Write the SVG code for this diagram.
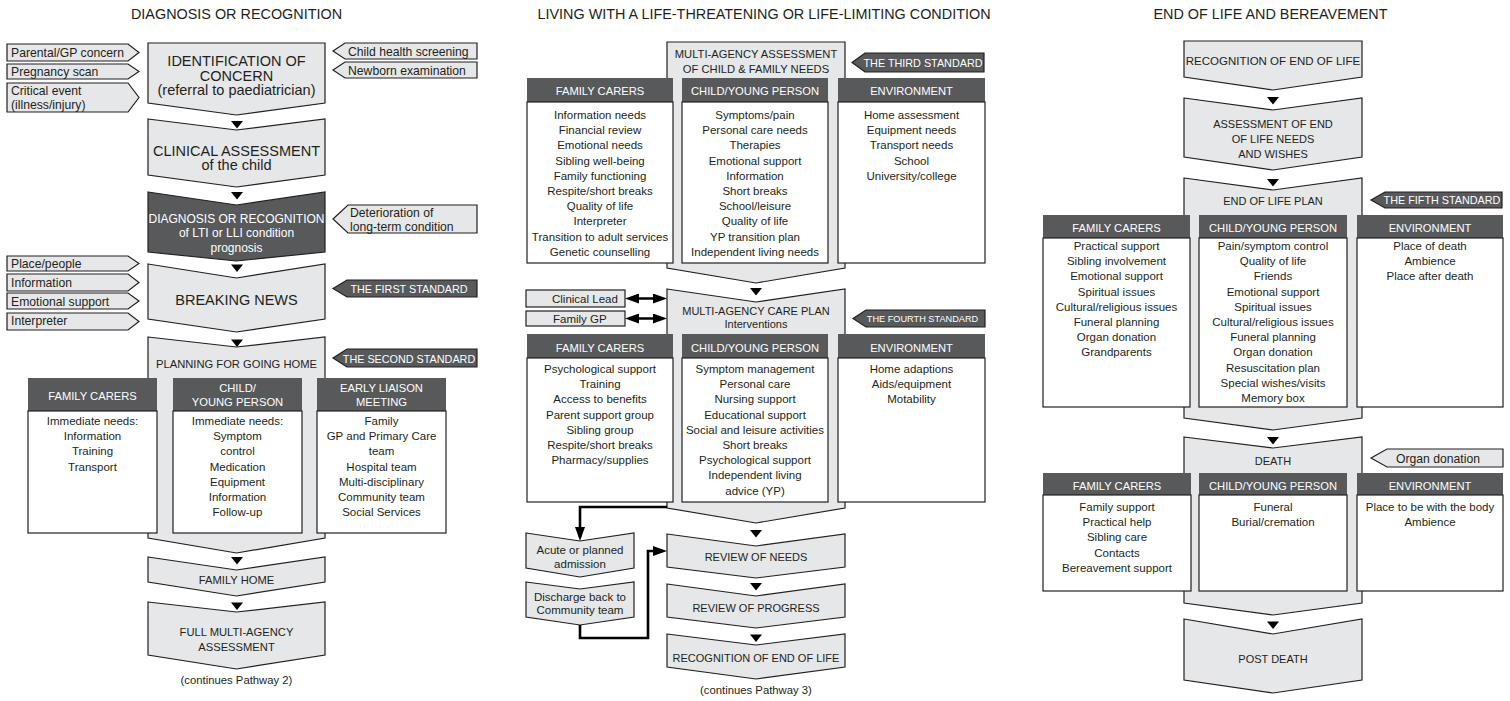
<svg xmlns="http://www.w3.org/2000/svg" width="1510" height="701" viewBox="0 0 1510 701">
<style>
text{font-family:"Liberation Sans",Arial,Helvetica,sans-serif;fill:#231f20}
.c{text-anchor:middle}
.T{font-size:14.4px}
.L{font-size:14.5px}
.M{font-size:11px}
.B{font-size:11.5px}
.I{font-size:12.2px}
.H{font-size:11.2px;fill:#fff}
.W{fill:#fff}
.stage{fill:#e6e7e8;stroke:#231f20;stroke-width:1.2}
.dark{fill:#58595b;stroke:#231f20;stroke-width:1.2}
.hdr{fill:#58595b}
.body{fill:#fff;stroke:#231f20;stroke-width:1.2}
.tri{fill:#000}
.con{fill:none;stroke:#000;stroke-width:2.6}
</style>
<defs>
<marker id="ah" markerUnits="userSpaceOnUse" viewBox="0 0 14 10" markerWidth="14" markerHeight="10" refX="10" refY="5" orient="auto-start-reverse"><path d="M0,0 L14,5 L0,10 Z" fill="#000"/></marker>
</defs>
<rect width="1510" height="701" fill="#fff"/>

<!-- Titles -->
<text class="T c" x="236.5" y="18.5">DIAGNOSIS OR RECOGNITION</text>
<text class="T c" x="764" y="18.5" font-size="14.2">LIVING WITH A LIFE-THREATENING OR LIFE-LIMITING CONDITION</text>
<text class="T c" x="1270.5" y="18.5">END OF LIFE AND BEREAVEMENT</text>

<!-- ===== LEFT COLUMN ===== -->
<g id="n-identification">
<path class="stage" d="M148,43 L325,43 L325,103 L236.5,115 L148,103 Z"/>
<text class="L c" x="236.5" y="65.5">IDENTIFICATION OF<tspan x="236.5" y="80.5">CONCERN</tspan><tspan x="236.5" y="95">(referral to paediatrician)</tspan></text>
</g>
<g id="in-parental"><path class="stage" d="M7,44 L128,44 L139,52.5 L128,61 L7,61 Z"/><text class="I" x="11" y="57">Parental/GP concern</text></g>
<g id="in-pregnancy"><path class="stage" d="M7,64 L128,64 L139,71.5 L128,79 L7,79 Z"/><text class="I" x="11" y="76">Pregnancy scan</text></g>
<g id="in-critical"><path class="stage" d="M7,83 L128,83 L139,97.5 L128,112 L7,112 Z"/><text class="I" x="11" y="94.5">Critical event<tspan x="11" y="108.5">(illness/injury)</tspan></text></g>
<g id="in-screening"><path class="stage" d="M333,51 L345,43 L477,43 L477,59 L345,59 Z"/><text class="I" x="348" y="55.5">Child health screening</text></g>
<g id="in-newborn"><path class="stage" d="M333,70 L345,62 L477,62 L477,78 L345,78 Z"/><text class="I" x="348" y="74.5">Newborn examination</text></g>

<g id="n-clinical">
<path class="stage" d="M148,119 L236.5,130 L325,119 L325,175 L236.5,187 L148,175 Z"/>
<text class="L c" x="236.5" y="156">CLINICAL ASSESSMENT<tspan x="236.5" y="170">of the child</tspan></text>
</g>

<g id="n-diagnosis">
<path class="dark" d="M148,192 L236.5,205 L325,192 L325,252 L236.5,261 L148,252 Z"/>
<text class="c W" font-size="12" x="236.5" y="222.5">DIAGNOSIS OR RECOGNITION<tspan x="236.5" y="237">of LTI or LLI condition</tspan><tspan x="236.5" y="251.5">prognosis</tspan></text>
</g>
<g id="in-deterioration"><path class="stage" d="M333,219 L348,205 L477,205 L477,233 L348,233 Z"/><text class="I" x="350" y="217">Deterioration of<tspan x="350" y="231">long-term condition</tspan></text></g>

<g id="n-breaking">
<path class="stage" d="M148,264 L236.5,278 L325,264 L325,319 L236.5,332 L148,319 Z"/>
<text class="L c" x="236.5" y="304.5">BREAKING NEWS</text>
</g>
<g id="in-place"><path class="stage" d="M7,256 L128,256 L139,263.5 L128,271 L7,271 Z"/><text class="I" x="11" y="268">Place/people</text></g>
<g id="in-information"><path class="stage" d="M7,274 L128,274 L139,282.5 L128,291 L7,291 Z"/><text class="I" x="11" y="287">Information</text></g>
<g id="in-emotional"><path class="stage" d="M7,293 L128,293 L139,301 L128,309 L7,309 Z"/><text class="I" x="11" y="305.5">Emotional support</text></g>
<g id="in-interpreter"><path class="stage" d="M7,313 L128,313 L139,321.5 L128,330 L7,330 Z"/><text class="I" x="11" y="325">Interpreter</text></g>
<g id="std-first"><path class="dark" d="M333,288.5 L347,280 L477,280 L477,297 L347,297 Z"/><text class="c W" font-size="10.8" x="409" y="292.5">THE FIRST STANDARD</text></g>

<g id="n-planning">
<path class="stage" d="M148,337 L236.5,347 L325,337 L325,538 L236.5,553 L148,538 Z"/>
<text class="c" font-size="11.2" x="236.5" y="368">PLANNING FOR GOING HOME</text>
</g>
<g id="std-second"><path class="dark" d="M333,358 L347,349 L477,349 L477,367 L347,367 Z"/><text class="c W" font-size="10.8" x="409" y="362.5">THE SECOND STANDARD</text></g>

<g id="col-l-family">
<rect class="hdr" x="28" y="378" width="129" height="33"/>
<rect class="body" x="28" y="411" width="129" height="122"/>
<text class="H c" x="92.5" y="400">FAMILY CARERS</text>
<text class="B c" x="92.5" y="425">Immediate needs:<tspan x="92.5" dy="15.2">Information</tspan><tspan x="92.5" dy="15.2">Training</tspan><tspan x="92.5" dy="15.2">Transport</tspan></text>
</g>
<g id="col-l-child">
<rect class="hdr" x="173" y="378" width="129" height="33"/>
<rect class="body" x="173" y="411" width="129" height="122"/>
<text class="H c" x="237.5" y="392">CHILD/<tspan x="237.5" y="406">YOUNG PERSON</tspan></text>
<text class="B c" x="237.5" y="425">Immediate needs:<tspan x="237.5" dy="15.2">Symptom</tspan><tspan x="237.5" dy="15.2">control</tspan><tspan x="237.5" dy="15.2">Medication</tspan><tspan x="237.5" dy="15.2">Equipment</tspan><tspan x="237.5" dy="15.2">Information</tspan><tspan x="237.5" dy="15.2">Follow-up</tspan></text>
</g>
<g id="col-l-liaison">
<rect class="hdr" x="317" y="378" width="129" height="33"/>
<rect class="body" x="317" y="411" width="129" height="122"/>
<text class="H c" x="381.5" y="392">EARLY LIAISON<tspan x="381.5" y="406">MEETING</tspan></text>
<text class="B c" x="381.5" y="425">Family<tspan x="381.5" dy="15.2">GP and Primary Care</tspan><tspan x="381.5" dy="15.2">team</tspan><tspan x="381.5" dy="15.2">Hospital team</tspan><tspan x="381.5" dy="15.2">Multi-disciplinary</tspan><tspan x="381.5" dy="15.2">Community team</tspan><tspan x="381.5" dy="15.2">Social Services</tspan></text>
</g>

<g id="n-family-home">
<path class="stage" d="M148,557 L236.5,570 L325,557 L325,582 L236.5,596 L148,582 Z"/>
<text class="c" font-size="11.2" x="236.5" y="584">FAMILY HOME</text>
</g>
<g id="n-full-assessment">
<path class="stage" d="M148,602 L236.5,612 L325,602 L325,655 L236.5,669 L148,655 Z"/>
<text class="c" font-size="11.2" x="236.5" y="636">FULL MULTI-AGENCY<tspan x="236.5" y="651">ASSESSMENT</tspan></text>
</g>
<text class="c" font-size="11.3" x="236.5" y="684">(continues Pathway 2)</text>

<!-- ===== MIDDLE COLUMN ===== -->
<g id="n-ma-assessment">
<path class="stage" d="M667,42 L845,42 L845,268 L756,283 L667,268 Z"/>
<text class="c" font-size="11.2" x="756" y="58">MULTI-AGENCY ASSESSMENT<tspan x="756" y="73">OF CHILD &amp; FAMILY NEEDS</tspan></text>
</g>
<g id="std-third"><path class="dark" d="M852,62.5 L865,53 L984,53 L984,72 L865,72 Z"/><text class="c W" font-size="10.8" x="923" y="67">THE THIRD STANDARD</text></g>

<g id="col-m1-family">
<rect class="hdr" x="527" y="78" width="146" height="24"/>
<rect class="body" x="527" y="102" width="146" height="161"/>
<text class="H c" x="600" y="95">FAMILY CARERS</text>
<text class="B c" x="600" y="119">Information needs<tspan x="600" dy="15.2">Financial review</tspan><tspan x="600" dy="15.2">Emotional needs</tspan><tspan x="600" dy="15.2">Sibling well-being</tspan><tspan x="600" dy="15.2">Family functioning</tspan><tspan x="600" dy="15.2">Respite/short breaks</tspan><tspan x="600" dy="15.2">Quality of life</tspan><tspan x="600" dy="15.2">Interpreter</tspan><tspan x="600" dy="15.2">Transition to adult services</tspan><tspan x="600" dy="15.2">Genetic counselling</tspan></text>
</g>
<g id="col-m1-child">
<rect class="hdr" x="682" y="78" width="146" height="24"/>
<rect class="body" x="682" y="102" width="146" height="161"/>
<text class="H c" x="755" y="95">CHILD/YOUNG PERSON</text>
<text class="B c" x="755" y="119">Symptoms/pain<tspan x="755" dy="15.2">Personal care needs</tspan><tspan x="755" dy="15.2">Therapies</tspan><tspan x="755" dy="15.2">Emotional support</tspan><tspan x="755" dy="15.2">Information</tspan><tspan x="755" dy="15.2">Short breaks</tspan><tspan x="755" dy="15.2">School/leisure</tspan><tspan x="755" dy="15.2">Quality of life</tspan><tspan x="755" dy="15.2">YP transition plan</tspan><tspan x="755" dy="15.2">Independent living needs</tspan></text>
</g>
<g id="col-m1-env">
<rect class="hdr" x="838" y="78" width="147" height="24"/>
<rect class="body" x="838" y="102" width="147" height="161"/>
<text class="H c" x="911.5" y="95">ENVIRONMENT</text>
<text class="B c" x="911.5" y="119">Home assessment<tspan x="911.5" dy="15.2">Equipment needs</tspan><tspan x="911.5" dy="15.2">Transport needs</tspan><tspan x="911.5" dy="15.2">School</tspan><tspan x="911.5" dy="15.2">University/college</tspan></text>
</g>

<g id="n-care-plan">
<path class="stage" d="M667,289 L756,302 L845,289 L845,508 L756,523 L667,508 Z"/>
<text class="c" font-size="11" x="756" y="315">MULTI-AGENCY CARE PLAN<tspan x="756" y="328">Interventions</tspan></text>
</g>
<g id="n-clinical-lead"><rect class="stage" x="526" y="290" width="99" height="17"/><text class="B" x="552" y="303">Clinical Lead</text></g>
<g id="n-family-gp"><rect class="stage" x="526" y="311" width="99" height="15"/><text class="B" x="553" y="323">Family GP</text></g>
<g id="std-fourth"><path class="dark" d="M853,318.5 L866,310 L985,310 L985,327 L866,327 Z"/><text class="c W" font-size="9.2" x="922.5" y="322">THE FOURTH STANDARD</text></g>

<g id="col-m2-family">
<rect class="hdr" x="527" y="334" width="146" height="24"/>
<rect class="body" x="527" y="358" width="146" height="144"/>
<text class="H c" x="600" y="351.5">FAMILY CARERS</text>
<text class="B c" x="600" y="373">Psychological support<tspan x="600" dy="15.2">Training</tspan><tspan x="600" dy="15.2">Access to benefits</tspan><tspan x="600" dy="15.2">Parent support group</tspan><tspan x="600" dy="15.2">Sibling group</tspan><tspan x="600" dy="15.2">Respite/short breaks</tspan><tspan x="600" dy="15.2">Pharmacy/supplies</tspan></text>
</g>
<g id="col-m2-child">
<rect class="hdr" x="682" y="334" width="146" height="24"/>
<rect class="body" x="682" y="358" width="146" height="144"/>
<text class="H c" x="755" y="351.5">CHILD/YOUNG PERSON</text>
<text class="B c" x="755" y="373">Symptom management<tspan x="755" dy="15.2">Personal care</tspan><tspan x="755" dy="15.2">Nursing support</tspan><tspan x="755" dy="15.2">Educational support</tspan><tspan x="755" dy="15.2">Social and leisure activities</tspan><tspan x="755" dy="15.2">Short breaks</tspan><tspan x="755" dy="15.2">Psychological support</tspan><tspan x="755" dy="15.2">Independent living</tspan><tspan x="755" dy="15.2">advice (YP)</tspan></text>
</g>
<g id="col-m2-env">
<rect class="hdr" x="838" y="334" width="147" height="24"/>
<rect class="body" x="838" y="358" width="147" height="144"/>
<text class="H c" x="911.5" y="351.5">ENVIRONMENT</text>
<text class="B c" x="911.5" y="373">Home adaptions<tspan x="911.5" dy="15.2">Aids/equipment</tspan><tspan x="911.5" dy="15.2">Motability</tspan></text>
</g>

<g id="n-acute">
<path class="stage" d="M526,533 L580,541 L634,533 L634,568 L580,577 L526,568 Z"/>
<text class="B c" x="580" y="554">Acute or planned<tspan x="580" y="568">admission</tspan></text>
</g>
<g id="n-discharge">
<path class="stage" d="M526,582 L580,589 L634,582 L634,617 L580,625 L526,617 Z"/>
<text class="B c" x="580" y="601">Discharge back to<tspan x="580" y="614">Community team</tspan></text>
</g>
<g id="n-review-needs">
<path class="stage" d="M667,534 L756,546 L845,534 L845,567 L756,578 L667,567 Z"/>
<text class="c M" x="756" y="561">REVIEW OF NEEDS</text>
</g>
<g id="n-review-progress">
<path class="stage" d="M667,584 L756,596 L845,584 L845,617 L756,628 L667,617 Z"/>
<text class="c M" x="756" y="612">REVIEW OF PROGRESS</text>
</g>
<g id="n-recognition-m">
<path class="stage" d="M667,634 L756,645 L845,634 L845,667 L756,679 L667,667 Z"/>
<text class="c M" x="756" y="662">RECOGNITION OF END OF LIFE</text>
</g>
<text class="c" font-size="11.3" x="756" y="694">(continues Pathway 3)</text>

<!-- ===== RIGHT COLUMN ===== -->
<g id="n-recognition-r">
<path class="stage" d="M1184,41 L1362,41 L1362,77 L1273,90 L1184,77 Z"/>
<text class="c" font-size="11.5" x="1273" y="64.5">RECOGNITION OF END OF LIFE</text>
</g>
<g id="n-eol-assessment">
<path class="stage" d="M1184,98 L1273,110 L1362,98 L1362,157 L1273,170 L1184,157 Z"/>
<text class="c M" x="1273" y="127.5">ASSESSMENT OF END<tspan x="1273" y="142.7">OF LIFE NEEDS</tspan><tspan x="1273" y="157.7">AND WISHES</tspan></text>
</g>
<g id="n-eol-plan">
<path class="stage" d="M1184,178 L1273,190 L1362,178 L1362,418 L1273,430 L1184,418 Z"/>
<text class="c M" x="1273" y="205">END OF LIFE PLAN</text>
</g>
<g id="std-fifth"><path class="dark" d="M1371,200 L1385,192 L1502,192 L1502,208 L1385,208 Z"/><text class="c W" font-size="10.8" x="1442" y="204">THE FIFTH STANDARD</text></g>

<g id="col-r1-family">
<rect class="hdr" x="1043" y="215" width="147" height="23"/>
<rect class="body" x="1043" y="238" width="147" height="169"/>
<text class="H c" x="1116.5" y="232">FAMILY CARERS</text>
<text class="B c" x="1116.5" y="250">Practical support<tspan x="1116.5" dy="15.2">Sibling involvement</tspan><tspan x="1116.5" dy="15.2">Emotional support</tspan><tspan x="1116.5" dy="15.2">Spiritual issues</tspan><tspan x="1116.5" dy="15.2">Cultural/religious issues</tspan><tspan x="1116.5" dy="15.2">Funeral planning</tspan><tspan x="1116.5" dy="15.2">Organ donation</tspan><tspan x="1116.5" dy="15.2">Grandparents</tspan></text>
</g>
<g id="col-r1-child">
<rect class="hdr" x="1199" y="215" width="148" height="23"/>
<rect class="body" x="1199" y="238" width="148" height="169"/>
<text class="H c" x="1273" y="232">CHILD/YOUNG PERSON</text>
<text class="B c" x="1273" y="250">Pain/symptom control<tspan x="1273" dy="15.2">Quality of life</tspan><tspan x="1273" dy="15.2">Friends</tspan><tspan x="1273" dy="15.2">Emotional support</tspan><tspan x="1273" dy="15.2">Spiritual issues</tspan><tspan x="1273" dy="15.2">Cultural/religious issues</tspan><tspan x="1273" dy="15.2">Funeral planning</tspan><tspan x="1273" dy="15.2">Organ donation</tspan><tspan x="1273" dy="15.2">Resuscitation plan</tspan><tspan x="1273" dy="15.2">Special wishes/visits</tspan><tspan x="1273" dy="15.2">Memory box</tspan></text>
</g>
<g id="col-r1-env">
<rect class="hdr" x="1357" y="215" width="146" height="23"/>
<rect class="body" x="1357" y="238" width="146" height="169"/>
<text class="H c" x="1430" y="232">ENVIRONMENT</text>
<text class="B c" x="1430" y="250">Place of death<tspan x="1430" dy="15.2">Ambience</tspan><tspan x="1430" dy="15.2">Place after death</tspan></text>
</g>

<g id="n-death">
<path class="stage" d="M1184,437 L1273,448 L1362,437 L1362,603 L1273,615 L1184,603 Z"/>
<text class="c M" x="1273" y="465">DEATH</text>
</g>
<g id="in-organ"><path class="stage" d="M1371,458 L1387,449 L1503,449 L1503,467 L1387,467 Z"/><text class="I c" x="1438" y="462.5">Organ donation</text></g>

<g id="col-r2-family">
<rect class="hdr" x="1043" y="473" width="148" height="22"/>
<rect class="body" x="1043" y="495" width="148" height="96"/>
<text class="H c" x="1117" y="490">FAMILY CARERS</text>
<text class="B c" x="1117" y="511">Family support<tspan x="1117" dy="15.2">Practical help</tspan><tspan x="1117" dy="15.2">Sibling care</tspan><tspan x="1117" dy="15.2">Contacts</tspan><tspan x="1117" dy="15.2">Bereavement support</tspan></text>
</g>
<g id="col-r2-child">
<rect class="hdr" x="1199" y="473" width="148" height="22"/>
<rect class="body" x="1199" y="495" width="148" height="96"/>
<text class="H c" x="1273" y="490">CHILD/YOUNG PERSON</text>
<text class="B c" x="1273" y="511">Funeral<tspan x="1273" dy="15.2">Burial/cremation</tspan></text>
</g>
<g id="col-r2-env">
<rect class="hdr" x="1357" y="473" width="146" height="22"/>
<rect class="body" x="1357" y="495" width="146" height="96"/>
<text class="H c" x="1430" y="490">ENVIRONMENT</text>
<text class="B c" x="1430" y="511">Place to be with the body<tspan x="1430" dy="15.2">Ambience</tspan></text>
</g>

<g id="n-post-death">
<path class="stage" d="M1184,619 L1273,634 L1362,619 L1362,680 L1273,693 L1184,680 Z"/>
<text class="c M" x="1273" y="663">POST DEATH</text>
</g>

<!-- ===== CONNECTORS ===== -->
<g id="connectors">
<path class="tri" d="M231,121 L243,121 L237,128.5 Z"/>
<path class="tri" d="M231,192 L243,192 L237,199.5 Z"/>
<path class="tri" d="M231,264.5 L243,264.5 L237,272 Z"/>
<path class="tri" d="M231,339.5 L243,339.5 L237,347 Z"/>
<path class="tri" d="M231,557 L243,557 L237,564.5 Z"/>
<path class="tri" d="M231,602.5 L243,602.5 L237,610 Z"/>
<path class="tri" d="M750,288 L762,288 L756,295.5 Z"/>
<path class="tri" d="M750,530 L762,530 L756,537.5 Z"/>
<path class="tri" d="M750,583 L762,583 L756,590.5 Z"/>
<path class="tri" d="M750,634.5 L762,634.5 L756,642 Z"/>
<path class="tri" d="M1267,97 L1279,97 L1273,104.5 Z"/>
<path class="tri" d="M1267,179 L1279,179 L1273,186.5 Z"/>
<path class="tri" d="M1267,437 L1279,437 L1273,444.5 Z"/>
<path class="tri" d="M1267,621.5 L1279,621.5 L1273,629 Z"/>
<path class="con" d="M629,298.5 H663" marker-start="url(#ah)" marker-end="url(#ah)"/>
<path class="con" d="M629,318.5 H663" marker-start="url(#ah)" marker-end="url(#ah)"/>
<path class="con" d="M667,507 H580 V537" marker-end="url(#ah)"/>
<path class="con" d="M580,625 V638 H648 V551 H663" marker-end="url(#ah)"/>
</g>
</svg>
